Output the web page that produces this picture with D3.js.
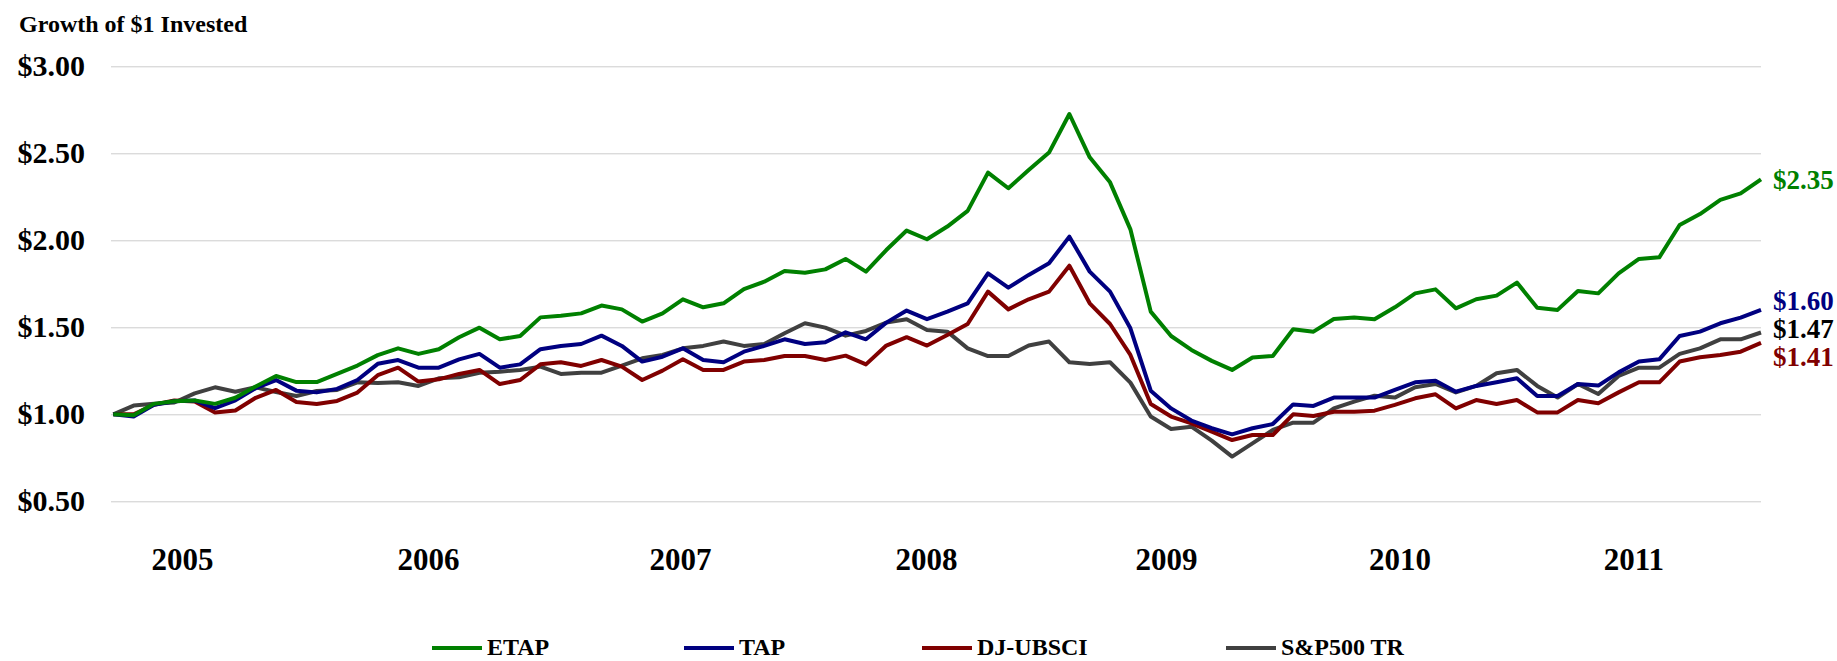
<!DOCTYPE html>
<html>
<head>
<meta charset="utf-8">
<script src="https://cdn.jsdelivr.net/npm/d3@7"></script>
<style>
  body { margin: 0; background: #fff; }
  svg { display: block; }
  text { font-family: "Liberation Serif", "Times New Roman", serif; font-weight: bold; }
</style>
</head>
<body>
<svg id="chart"></svg>
<script>
// monthly growth of $1, Dec 2004 .. Sep 2011 (82 points)
const etap = [1.00,0.995,1.06,1.075,1.08,1.06,1.095,1.16,1.22,1.185,
  1.185,1.232,1.28,1.34,1.379,1.347,1.374,1.443,1.498,1.431,
  1.45,1.557,1.567,1.58,1.625,1.603,1.533,1.58,1.661,1.615,
  1.638,1.72,1.762,1.824,1.814,1.833,1.893,1.82,1.944,2.056,
  2.006,2.079,2.169,2.389,2.299,2.404,2.504,2.726,2.477,2.333,
  2.063,1.59,1.45,1.37,1.307,1.255,1.326,1.335,1.489,1.475,
  1.548,1.556,1.546,1.615,1.695,1.718,1.609,1.661,1.682,1.757,
  1.613,1.6,1.709,1.695,1.81,1.893,1.902,2.088,2.151,2.232,
  2.27,2.35];
const tap = [1.00,0.987,1.055,1.075,1.08,1.035,1.08,1.15,1.197,1.136,
  1.126,1.146,1.197,1.29,1.312,1.268,1.268,1.316,1.347,1.268,
  1.287,1.374,1.393,1.404,1.452,1.393,1.303,1.331,1.379,1.312,
  1.299,1.36,1.393,1.431,1.404,1.414,1.471,1.431,1.527,1.596,
  1.547,1.59,1.638,1.81,1.728,1.801,1.868,2.021,1.82,1.705,
  1.494,1.136,1.034,0.964,0.92,0.885,0.92,0.944,1.057,1.048,
  1.096,1.096,1.096,1.14,1.184,1.193,1.13,1.163,1.184,1.207,
  1.105,1.105,1.174,1.165,1.241,1.303,1.316,1.45,1.475,1.523,
  1.556,1.60];
const djubsci = [1.00,1.00,1.055,1.08,1.073,1.01,1.022,1.095,1.14,1.071,
  1.059,1.077,1.125,1.225,1.268,1.188,1.201,1.232,1.255,1.174,
  1.197,1.287,1.299,1.278,1.312,1.274,1.197,1.251,1.316,1.255,
  1.255,1.303,1.312,1.335,1.335,1.312,1.337,1.287,1.395,1.443,
  1.395,1.456,1.519,1.705,1.603,1.661,1.705,1.854,1.638,1.519,
  1.341,1.059,0.987,0.948,0.9,0.852,0.881,0.881,1.0,0.99,
  1.015,1.015,1.021,1.054,1.092,1.115,1.034,1.082,1.059,1.082,
  1.011,1.011,1.082,1.063,1.126,1.184,1.184,1.303,1.328,1.341,
  1.36,1.41];
const sp500 = [1.00,1.05,1.06,1.068,1.12,1.155,1.13,1.155,1.128,1.105,
  1.134,1.14,1.184,1.18,1.184,1.163,1.207,1.213,1.239,1.245,
  1.255,1.274,1.232,1.239,1.239,1.28,1.322,1.341,1.379,1.393,
  1.418,1.393,1.404,1.466,1.523,1.498,1.452,1.479,1.527,1.546,
  1.485,1.475,1.379,1.335,1.335,1.395,1.418,1.299,1.289,1.299,
  1.182,0.987,0.916,0.929,0.849,0.757,0.833,0.91,0.952,0.952,
  1.034,1.073,1.107,1.096,1.155,1.174,1.126,1.163,1.236,1.255,
  1.163,1.096,1.174,1.117,1.22,1.268,1.268,1.347,1.379,1.431,
  1.431,1.47];

const seriesNames = ["ETAP", "TAP", "DJ-UBSCI", "S&P500 TR"];
const yearLabels = ["2005", "2006", "2007", "2008", "2009", "2010", "2011"];
const yearAt = [3.38, 15.47, 27.86, 39.95, 51.75, 63.23, 74.73]; // month index under each label
const yTicks = [0.5, 1.0, 1.5, 2.0, 2.5, 3.0];

const colors = ["#008000", "#000080", "#800000", "#404040"];
const endColors = ["#008000", "#000080", "#800000", "#000000"];

const W = 1837, H = 661;
const left = 111, right = 1761;

const svg = d3.select("#chart").attr("width", W).attr("height", H);

const series = [etap, tap, djubsci, sp500].map((vals, k) => ({
  name: seriesNames[k], values: vals, color: colors[k], endColor: endColors[k]
}));

const x = d3.scaleLinear().domain([0, etap.length - 1]).range([113.3, right]);
const y = d3.scaleLinear().domain([0.5, 3.0]).range([501.3, 66.3]);

// title
svg.append("text")
  .attr("x", 19).attr("y", 32)
  .style("font-size", "24px")
  .text("Growth of $1 Invested");

// y axis + gridlines
const yAxis = svg.append("g")
  .attr("transform", `translate(${left},0)`)
  .call(d3.axisLeft(y).tickValues(yTicks).tickFormat(d3.format("$.2f"))
    .tickSizeInner(-(right - left)).tickSizeOuter(0).tickPadding(26));
yAxis.select(".domain").remove();
yAxis.selectAll(".tick line").attr("stroke", "#cccccc").attr("stroke-width", 1);
yAxis.selectAll(".tick text")
  .style("font-size", "30px")
  .style("font-family", '"Liberation Serif", "Times New Roman", serif')
  .style("font-weight", "bold")
  .attr("fill", "#000");

// x axis (year labels only)
const xAxis = svg.append("g")
  .attr("transform", `translate(0,${y(0.5)})`)
  .call(d3.axisBottom(x).tickValues(yearAt).tickFormat((d, i) => yearLabels[i])
    .tickSize(0).tickPadding(47));
xAxis.select(".domain").remove();
xAxis.selectAll(".tick text")
  .style("font-size", "31px")
  .style("font-family", '"Liberation Serif", "Times New Roman", serif')
  .style("font-weight", "bold")
  .attr("fill", "#000");

// lines
const line = d3.line()
  .x((d, i) => x(i))
  .y(d => y(d));

svg.append("g")
  .selectAll("path")
  .data(series.slice().reverse())
  .join("path")
    .attr("d", d => line(d.values))
    .attr("fill", "none")
    .attr("stroke", d => d.color)
    .attr("stroke-width", 4)
    .attr("stroke-linejoin", "round");

// end-value labels, nudged apart so they don't overlap
const ends = series.map(s => {
  const v = s.values[s.values.length - 1];
  return { s, v, y: y(v) };
}).sort((a, b) => a.y - b.y);
const gap = 28;
for (let it = 0; it < 50; it++) {
  for (let k = 1; k < ends.length; k++) {
    const d = ends[k].y - ends[k - 1].y;
    if (d < gap) {
      const push = (gap - d) / 2;
      ends[k - 1].y -= push;
      ends[k].y += push;
    }
  }
}
svg.append("g")
  .selectAll("text")
  .data(ends)
  .join("text")
    .attr("x", right + 12)
    .attr("y", d => d.y)
    .attr("dy", "0.35em")
    .attr("fill", d => d.s.endColor)
    .style("font-size", "27px")
    .text(d => d3.format("$.2f")(d.v));

// legend
const legendX = [432, 684, 922, 1226];
const legend = svg.append("g")
  .selectAll("g")
  .data(series)
  .join("g")
    .attr("transform", (d, i) => `translate(${legendX[i]},648)`);
legend.append("line")
  .attr("x1", 0).attr("x2", 50)
  .attr("stroke", d => d.color)
  .attr("stroke-width", 4);
legend.append("text")
  .attr("x", 55).attr("y", 7)
  .style("font-size", "24px")
  .text(d => d.name);
</script>
</body>
</html>
